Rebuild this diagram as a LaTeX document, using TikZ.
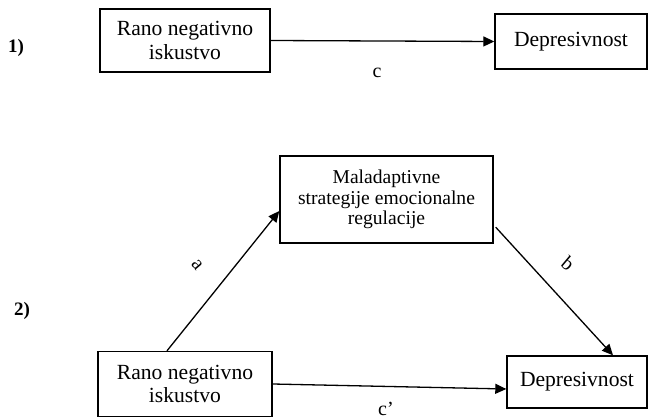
\documentclass[tikz,border=0pt]{standalone}
\usepackage{fontspec}
\setmainfont{Liberation Serif}
\usetikzlibrary{arrows.meta}
\begin{document}
\begin{tikzpicture}[x=1pt,y=-1pt,
  box/.style={draw,line width=1.4pt,rectangle,inner sep=0pt,font=\fontsize{21.6}{23.5}\selectfont},
  conn/.style={line width=1.3pt,-{Triangle[length=11pt,width=10pt]}},
  lbl/.style={font=\fontsize{20}{22}\selectfont,inner sep=0pt},
  num/.style={font=\fontsize{19}{21}\selectfont\bfseries,inner sep=0pt}]
\useasboundingbox (0,0) rectangle (649,420);
% panel 1
\node[num] (n1) at (16,48) {1)};
\node[box,minimum width=170pt,minimum height=63pt,align=center] (rano1) at (185,40.5) {Rano negativno\\iskustvo};
\node[box,minimum width=152pt,minimum height=55pt,text width=114pt,inner xsep=19pt,align=left] (dep1) at (571,41.5) {Depresivnost};
\draw[conn] (rano1.east) -- (dep1.west);
\node[lbl] (c) at (377,73) {c};
% panel 2
\node[num] (n2) at (22,311) {2)};
\node[box,minimum width=213pt,minimum height=87pt,align=center,font=\fontsize{19.6}{20.5}\selectfont] (mid) at (386.5,199.5) {Maladaptivne\\strategije emocionalne\\regulacije};
\node[box,minimum width=174pt,minimum height=65pt,align=center] (rano2) at (185,384) {Rano negativno\\iskustvo};
\node[box,minimum width=140pt,minimum height=52pt,text width=114pt,inner xsep=13pt,align=left] (dep2) at (577,382) {Depresivnost};
\draw[conn] ([xshift=-18pt]rano2.north) -- ([yshift=-11.5pt]mid.west);
\draw[conn,shorten <=3pt] ([yshift=-25.5pt]mid.east) -- ([xshift=36pt]dep2.north);
\draw[conn] (rano2.east) -- ([yshift=-7pt]dep2.west);
\node[lbl,rotate=-50] (a) at (197,265) {a};
\node[lbl,rotate=-40] (b) at (568,263) {b};
\node[lbl] (c2) at (386,408.5) {c’};
\end{tikzpicture}
\end{document}
